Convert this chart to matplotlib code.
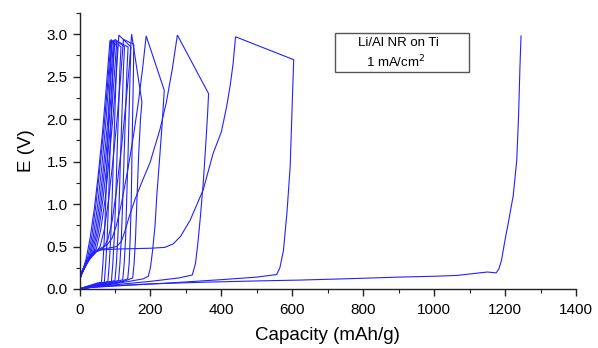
import matplotlib.pyplot as plt
from matplotlib.patches import Rectangle
from matplotlib.ticker import MultipleLocator

plt.rcParams['font.family'] = ['Liberation Sans', 'DejaVu Sans']

# galvanostatic cycles, capacity (mAh/g) vs potential (V)
cyc1_cap = [0, 30, 100, 200, 350, 500, 620, 750, 900, 1000, 1065, 1150, 1175,
            1183, 1190, 1200, 1210, 1223, 1233, 1238, 1242, 1245]
cyc1_e = [0.0, 0.02, 0.04, 0.06, 0.08, 0.095, 0.105, 0.12, 0.14, 0.15, 0.16, 0.2,
          0.19, 0.24, 0.34, 0.58, 0.8, 1.1, 1.52, 2.03, 2.62, 2.98]

cyc2_cap = [0, 40, 120, 250, 400, 500, 556, 565, 575, 585, 594, 600, 604,
            440, 433, 425, 415, 400, 377, 349, 312, 285, 264, 240, 200, 150,
            100, 60, 40, 20, 0]
cyc2_e = [0.0, 0.02, 0.04, 0.07, 0.11, 0.14, 0.17, 0.25, 0.45, 0.9, 1.44, 2.2, 2.70,
          2.97, 2.65, 2.4, 2.15, 1.85, 1.6, 1.17, 0.81, 0.62, 0.53, 0.49, 0.48, 0.475,
          0.47, 0.46, 0.43, 0.32, 0.15]

cyc3_cap = [0, 30, 100, 200, 280, 318, 327, 334, 340, 349, 356, 361, 364,
            276, 262, 245, 227, 199, 175, 156, 140, 128, 118, 105, 80, 55, 35, 18, 0]
cyc3_e = [0.0, 0.02, 0.05, 0.09, 0.13, 0.165, 0.3, 0.55, 0.81, 1.25, 1.7, 2.05, 2.30,
          2.99, 2.6, 2.2, 1.88, 1.49, 1.25, 1.05, 0.85, 0.68, 0.56, 0.5, 0.48, 0.46,
          0.41, 0.3, 0.12]

cyc4_cap = [0, 30, 80, 140, 180, 194, 200, 206, 213, 218, 227, 234, 239,
            188, 178, 166, 152, 136, 118, 104, 92, 78, 60, 40, 20, 0]
cyc4_e = [0.0, 0.02, 0.05, 0.09, 0.12, 0.15, 0.25, 0.45, 0.75, 1.1, 1.6, 2.0, 2.34,
          2.98, 2.6, 2.2, 1.8, 1.4, 1.0, 0.75, 0.6, 0.52, 0.48, 0.44, 0.34, 0.14]

cyc5_cap = [0, 30, 80, 125, 150, 154, 158, 162, 167, 172, 176,
            147, 140, 130, 118, 104, 92, 80, 66, 48, 28, 12, 0]
cyc5_e = [0.0, 0.02, 0.05, 0.09, 0.13, 0.3, 0.6, 1.05, 1.6, 2.0, 2.2,
          3.0, 2.6, 2.15, 1.65, 1.15, 0.8, 0.58, 0.48, 0.44, 0.36, 0.25, 0.15]

cyc6_cap = [0, 25, 70, 110, 136, 140, 143, 146, 148, 150, 152, 153,
            124, 116, 106, 94, 82, 70, 58, 44, 26, 10, 0]
cyc6_e = [0.0, 0.02, 0.05, 0.08, 0.12, 0.3, 0.6, 1.05, 1.6, 2.1, 2.5, 2.88,
          2.94, 2.5, 2.0, 1.5, 1.05, 0.7, 0.5, 0.42, 0.34, 0.22, 0.14]

cyc7_cap = [0, 25, 65, 100, 122, 126, 130, 133, 137, 140, 143, 145,
            111, 104, 95, 84, 72, 60, 48, 35, 20, 8, 0]
cyc7_e = [0.0, 0.02, 0.05, 0.08, 0.11, 0.3, 0.6, 1.05, 1.6, 2.1, 2.6, 2.85,
          2.99, 2.55, 2.05, 1.55, 1.05, 0.7, 0.48, 0.39, 0.3, 0.2, 0.13]

cyc8_cap = [0, 20, 60, 90, 110, 114, 118, 122, 126, 130, 134, 137,
            105, 98, 89, 78, 66, 54, 42, 30, 16, 6, 0]
cyc8_e = [0.0, 0.02, 0.05, 0.08, 0.1, 0.3, 0.6, 1.05, 1.6, 2.1, 2.6, 2.85,
          2.92, 2.5, 2.0, 1.5, 1.05, 0.68, 0.46, 0.36, 0.27, 0.18, 0.12]

cyc9_cap = [0, 20, 55, 80, 100, 104, 108, 112, 116, 120, 124, 127,
            100, 93, 84, 73, 61, 49, 37, 25, 13, 0]
cyc9_e = [0.0, 0.02, 0.05, 0.08, 0.1, 0.3, 0.6, 1.05, 1.6, 2.1, 2.6, 2.85,
          2.94, 2.5, 2.0, 1.5, 1.02, 0.66, 0.44, 0.33, 0.24, 0.12]

cyc10_cap = [0, 18, 50, 72, 90, 94, 98, 102, 106, 110, 114, 117,
             96, 88, 79, 68, 56, 44, 32, 21, 10, 0]
cyc10_e = [0.0, 0.02, 0.05, 0.07, 0.09, 0.3, 0.6, 1.05, 1.6, 2.1, 2.6, 2.85,
           2.93, 2.45, 1.95, 1.45, 1.0, 0.64, 0.42, 0.3, 0.21, 0.11]

cyc11_cap = [0, 15, 45, 65, 80, 84, 88, 92, 96, 100, 104, 107,
             91, 83, 74, 63, 51, 39, 28, 17, 8, 0]
cyc11_e = [0.0, 0.02, 0.05, 0.07, 0.09, 0.3, 0.6, 1.05, 1.6, 2.1, 2.6, 2.85,
           2.93, 2.45, 1.95, 1.45, 0.98, 0.62, 0.4, 0.27, 0.19, 0.11]

cyc12_cap = [0, 15, 40, 58, 70, 74, 78, 82, 86, 90, 94, 97,
             89, 80, 70, 58, 46, 34, 23, 13, 5, 0]
cyc12_e = [0.0, 0.02, 0.05, 0.07, 0.08, 0.3, 0.6, 1.05, 1.6, 2.1, 2.6, 2.85,
           2.94, 2.45, 1.95, 1.45, 0.98, 0.6, 0.37, 0.25, 0.17, 0.1]

cyc13_cap = [0, 12, 35, 50, 62, 66, 70, 74, 79, 83, 88, 91,
             86, 76, 65, 53, 42, 30, 19, 10, 4, 0]
cyc13_e = [0.0, 0.02, 0.05, 0.07, 0.08, 0.3, 0.6, 1.05, 1.6, 2.1, 2.65, 2.85,
           2.93, 2.4, 1.85, 1.35, 0.95, 0.6, 0.36, 0.23, 0.15, 0.1]

cycles = [(cyc1_cap, cyc1_e), (cyc2_cap, cyc2_e), (cyc3_cap, cyc3_e),
          (cyc4_cap, cyc4_e), (cyc5_cap, cyc5_e), (cyc6_cap, cyc6_e),
          (cyc7_cap, cyc7_e), (cyc8_cap, cyc8_e), (cyc9_cap, cyc9_e),
          (cyc10_cap, cyc10_e), (cyc11_cap, cyc11_e), (cyc12_cap, cyc12_e),
          (cyc13_cap, cyc13_e)]

W, H = 598, 348
fig = plt.figure(figsize=(W / 100, H / 100), dpi=100)
ax = fig.add_axes([79.5 / W, 1 - 289 / H, 496.5 / W, 276 / H])

for cap, e in cycles:
    ax.plot(cap, e, color='#2222ff', lw=0.8, solid_joinstyle='miter')

ax.set_xlim(0, 1400)
ax.set_ylim(0, 3.25)
ax.xaxis.set_major_locator(MultipleLocator(200))
ax.xaxis.set_minor_locator(MultipleLocator(100))
ax.yaxis.set_major_locator(MultipleLocator(0.5))
ax.yaxis.set_minor_locator(MultipleLocator(0.25))
ax.yaxis.set_major_formatter(plt.FuncFormatter(lambda v, p: f'{v:.1f}'))

for side in ('top', 'right'):
    ax.spines[side].set_visible(False)
for side in ('left', 'bottom'):
    ax.spines[side].set_linewidth(1.0)
    ax.spines[side].set_color('#222222')

ax.tick_params(which='major', direction='out', length=5, width=1.0,
               labelsize=11, color='#222222')
ax.tick_params(axis='x', which='major', pad=5)
ax.tick_params(which='minor', direction='out', length=3, width=0.8, color='#222222')

ax.set_xlabel('Capacity (mAh/g)', fontsize=13.5, labelpad=7)
ax.set_ylabel('E (V)', fontsize=13.5, labelpad=8)

# annotation box
ax.add_patch(Rectangle((0.5146, 0.786), 0.2699, 0.1415, transform=ax.transAxes,
                       fill=False, edgecolor='#555555', lw=1.0))
ax.text(0.6415, 0.890, 'Li/Al NR on Ti', transform=ax.transAxes,
        ha='center', va='center', fontsize=9.5)
ax.text(0.578, 0.823, '1 mA/cm$^2$', transform=ax.transAxes,
        ha='left', va='center', fontsize=9.5)

fig.savefig('out.png', dpi=100)
